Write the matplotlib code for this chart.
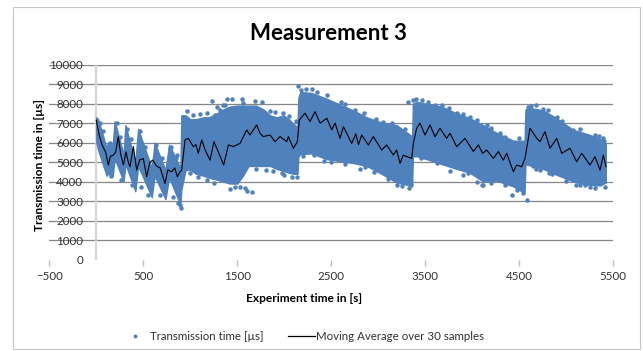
import matplotlib
matplotlib.use('Agg')
import matplotlib.pyplot as plt
from matplotlib.patches import Rectangle
from matplotlib.lines import Line2D

plt.rcParams['font.family'] = ['Lato', 'DejaVu Sans']

# ---------------- data ----------------
title = "Measurement 3"
x_label = "Experiment time in [s]"
y_label = "Transmission time in [µs]"
series_scatter = "Transmission time [µs]"
series_ma = "Moving Average over 30 samples"

x_ticks = [-500, 500, 1500, 2500, 3500, 4500, 5500]
y_ticks = [0, 1000, 2000, 3000, 4000, 5000, 6000, 7000, 8000, 9000, 10000]

# moving average over 30 samples
ma_t = [0, 30, 60, 100, 128, 150, 181, 205, 234, 260, 288, 316, 340, 359, 394,
        430, 460, 500, 536, 570, 600, 640, 680, 731, 760, 800, 835, 862, 890,
        908, 944, 979, 1032, 1060, 1085, 1121, 1160, 1210, 1252, 1300, 1355,
        1405, 1458, 1493, 1529, 1600, 1635, 1706, 1742, 1777, 1848, 1902, 1955,
        2026, 2043, 2097, 2139, 2160, 2220, 2274, 2327, 2381, 2452, 2505, 2540,
        2593, 2629, 2717, 2760, 2790, 2823, 2894, 2947, 3036, 3089, 3160, 3195,
        3231, 3266, 3302, 3355, 3373, 3408, 3444, 3497, 3550, 3603, 3656, 3727,
        3763, 3834, 3922, 4011, 4064, 4110, 4153, 4224, 4277, 4330, 4366, 4437,
        4472, 4525, 4561, 4614, 4685, 4720, 4773, 4827, 4898, 4951, 5039, 5110,
        5164, 5252, 5305, 5359, 5394, 5422]
ma_v = [7150, 6400, 5900, 5500, 4850, 5300, 5360, 5500, 6300, 5400, 4850, 5530,
        5000, 4760, 5800, 4590, 5100, 5190, 4250, 5000, 5100, 4800, 4700, 3900,
        4600, 4500, 4700, 4250, 4500, 4590, 6140, 6220, 5790, 5900, 5450, 6140,
        5600, 5100, 6050, 5500, 4850, 5880, 5800, 5880, 5960, 6650, 6390, 6910,
        6480, 6310, 6390, 6050, 6310, 6050, 6310, 5710, 6050, 7165, 7510, 7080,
        7590, 7000, 7250, 6650, 7000, 6220, 6820, 5960, 6450, 5900, 6390, 5880,
        6310, 5620, 5880, 5360, 5620, 4935, 5360, 5280, 5190, 5965, 6740, 7000,
        6390, 6910, 6300, 6740, 6220, 6480, 5790, 6220, 5550, 5880, 5450, 5620,
        5190, 5540, 5100, 5450, 4510, 4850, 4760, 5190, 6740, 6220, 6050, 6560,
        5710, 6220, 5450, 5710, 5020, 5450, 4850, 5280, 4590, 5360, 4760]

# dense body of the scattered measurements: lower / upper edge
cloud_t = [0, 20, 110, 122, 175, 195, 290, 310, 415, 445, 590, 620, 735, 775,
           895, 905, 950, 1000, 1060, 1140, 1200, 1280, 1350, 1420, 1500, 1560,
           1620, 1700, 1780, 1850, 1920, 1990, 2050, 2100, 2140, 2150, 2170,
           2290, 2452, 2593, 2735, 2877, 3053, 3195, 3337, 3360, 3368, 3408,
           3515, 3674, 3834, 3975, 4117, 4259, 4437, 4543, 4556, 4566, 4596,
           4756, 4897, 5075, 5217, 5359, 5420]
cloud_lo = [6000, 5600, 4300, 4400, 4300, 5200, 4000, 4900, 3500, 4800, 3200,
            4300, 3100, 4200, 2800, 3600, 4600, 4600, 4400, 4300, 4200, 4100,
            4000, 3900, 3900, 4300, 4800, 4800, 4800, 4800, 4650, 4550, 4450,
            4400, 4400, 5300, 5400, 5450, 5150, 5050, 4950, 4800, 4350, 3950,
            3800, 3800, 5300, 5300, 5150, 4900, 4650, 4450, 4000, 4050, 3750,
            3450, 3450, 4900, 4850, 4650, 4350, 4000, 3850, 3800, 3950]
cloud_hi = [7300, 7200, 5700, 6000, 5900, 7100, 5400, 6900, 5000, 6700, 4700,
            6000, 4600, 5900, 4700, 7400, 7400, 7200, 7200, 7300, 7300, 7500,
            7700, 7850, 7900, 7900, 7900, 7900, 7700, 7400, 7300, 7400, 7200,
            6950, 6800, 8300, 8600, 8550, 8250, 7950, 7650, 7300, 7000, 6900,
            6400, 6300, 8000, 8100, 8000, 7850, 7500, 7250, 6900, 6500, 6100,
            6100, 6100, 7700, 7800, 7650, 7250, 6650, 6450, 6200, 5950]

# isolated measurements around the dense body
pts_t = [784, 862, 890, 897, 1227, 1280, 1334, 1387, 1369, 1263, 1316, 1351,
         1546, 1564, 1688, 1759, 1848, 1990, 1954, 1582, 1600, 1653, 1529, 1972,
         2132, 2149, 2291, 2451, 2600, 2752, 3054, 3195, 3330, 3344, 3320, 3373,
         3532, 3674, 3834, 3976, 4100, 3958, 2859, 4153, 4295, 4117, 4419, 4578,
         4543, 4596, 4756, 4898, 5146, 5305, 5412, 5394, 5075, 1420, 1480, 1445,
         2180, 2230, 2350, 2420, 3400, 3460, 3600, 4620, 4680, 4820, 5250, 5350,
         40, 70, 150, 215, 250, 330, 370, 460, 520, 640, 700, 790, 850, 60, 160,
         260, 380, 480, 550, 680, 820, 870, 960, 1030, 1100, 1180, 1000, 1080,
         1180, 1250, 1700, 1800, 1880, 2000, 2080, 1900, 2050, 2120, 2200, 2320,
         2500, 2650, 2800, 2950, 3100, 3250, 2650, 2850, 2980, 3150, 3280, 3450,
         3620, 3760, 3900, 4050, 4200, 4350, 4480, 3750, 3900, 4050, 4200, 4350,
         4500, 4650, 4720, 4850, 5000, 5100, 5200, 5300, 4680, 4800, 4950, 5150,
         5300, 5400]
pts_v = [5710, 5360, 2790, 2620, 8160, 7850, 7500, 8230, 7940, 7420, 7680, 7940,
         8230, 8020, 8160, 8110, 7600, 7510, 7165, 3650, 3530, 3480, 3735, 4420,
         4250, 8910, 8760, 8450, 8110, 7680, 7080, 3820, 3650, 3820, 8110, 8190,
         8110, 7940, 7510, 7340, 3820, 4420, 4760, 6910, 6480, 3840, 3310, 3050,
         3390, 7850, 7710, 7340, 3820, 3650, 3735, 6220, 6650, 3600, 3700, 8250,
         8700, 8750, 8600, 5050, 8250, 8200, 7950, 7900, 4650, 4450, 3700, 6350,
         7000, 6600, 6000, 7000, 6300, 6700, 6200, 6600, 5800, 5900, 5200, 5800,
         5200, 5400, 4300, 4100, 3800, 3700, 3300, 3300, 3200, 2900, 7600, 7400,
         7450, 7500, 4450, 4250, 4100, 3950, 4650, 4600, 4550, 4350, 4250, 7550,
         7350, 7100, 5300, 5350, 5000, 4900, 4650, 4500, 4150, 3750, 8000, 7500,
         7200, 7000, 6700, 5200, 4950, 4550, 4350, 4000, 3950, 3800, 3550, 7800,
         7450, 7150, 6750, 6300, 6250, 4800, 4600, 4400, 4050, 3850, 3800, 3900,
         7950, 7700, 7100, 6700, 6400, 6100]

# ---------------- drawing ----------------
W, H = 643, 351
blue = '#4F81BD'
fig = plt.figure(figsize=(W / 100, H / 100), dpi=100)
fig.patch.set_facecolor('white')

fig.add_artist(Rectangle((13 / W, 1 - 349 / H), (640 - 13) / W, (349 - 7) / H,
                         fill=False, edgecolor='#c6c6c6', lw=0.8,
                         transform=fig.transFigure))

ax = fig.add_axes([49.3 / W, 1 - 259.5 / H, (613.3 - 49.3) / W, (259.5 - 64.7) / H])
ax.set_xlim(-500, 5500)
ax.set_ylim(0, 10000)
for s in ax.spines.values():
    s.set_visible(False)
ax.set_xticks(x_ticks)
ax.set_yticks(y_ticks)
ax.yaxis.grid(True, color='#868686', lw=0.9)
ax.get_ygridlines()[0].set_visible(False)
ax.set_axisbelow(True)
ax.tick_params(axis='y', length=0, pad=-24.3, labelsize=8.3, labelcolor='#303030')
ax.tick_params(axis='x', length=4, color='#c0c0c0', width=1, pad=4.5,
               labelsize=8.3, labelcolor='#303030')
ax.axvline(0, color='#d4d4d4', lw=1.6, zorder=1)

ax.fill_between(cloud_t, cloud_lo, cloud_hi, color=blue, lw=1.0, zorder=2)
ax.plot(pts_t, pts_v, 'o', ms=2.2, color=blue, mec=blue, zorder=2)
ax.plot(ma_t, ma_v, color='black', lw=0.8, zorder=3)

fig.text(328 / W, 1 - 33 / H, title, ha='center', va='center',
         fontsize=16, fontweight='bold', color='black')
fig.text(40 / W, 1 - 165 / H, y_label, ha='center', va='center', rotation=90,
         fontsize=8.6, fontweight='bold', color='black')
fig.text(304 / W, 1 - 299 / H, x_label, ha='center', va='center',
         fontsize=8.6, fontweight='bold', color='black')

ly = 1 - 336 / H
fig.add_artist(Line2D([135 / W], [ly], marker='o', ms=1.8, color=blue, lw=0,
                      transform=fig.transFigure))
fig.text(150 / W, ly, series_scatter, ha='left', va='center', fontsize=8.3,
         color='#303030')
fig.add_artist(Line2D([288 / W, 315 / W], [ly, ly], color='black', lw=0.9,
                      transform=fig.transFigure))
fig.text(316 / W, ly, series_ma, ha='left', va='center', fontsize=8.3,
         color='#303030')

fig.savefig('out.png', dpi=100, facecolor='white')
